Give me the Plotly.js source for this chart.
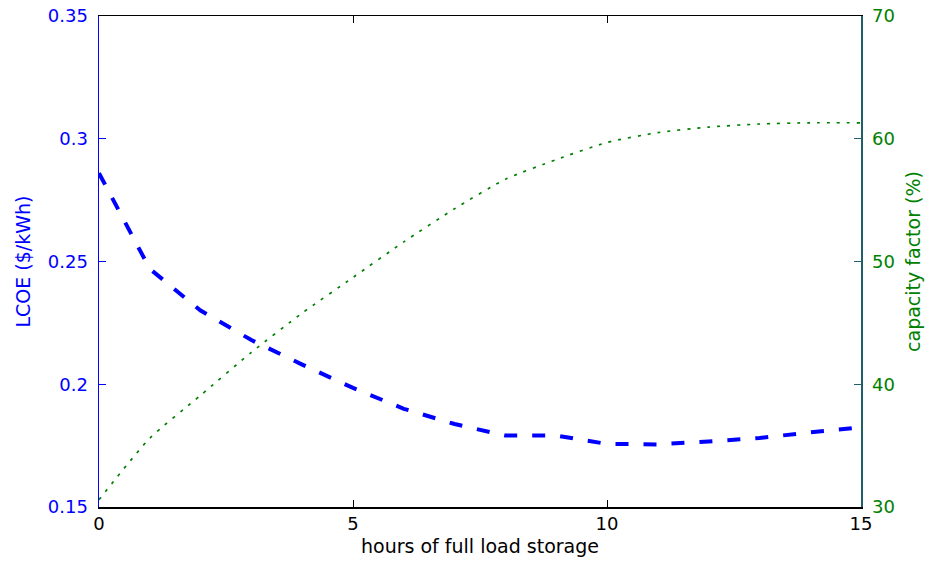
<!DOCTYPE html>
<html>
<head>
<meta charset="utf-8">
<script src="https://cdn.plot.ly/plotly-3.0.1.min.js"></script>
<style>html,body{margin:0;padding:0;background:#fff;}#chart{width:927px;height:563px;}</style>
</head>
<body>
<div id="chart"></div>
<script>
// hours of full load storage
const hours = [0,1,2,3,4,5,6,7,8,9,10,11,12,13,14,15];
// LCOE ($/kWh)
const lcoe = [0.286,0.247,0.230,0.218,0.208,0.1985,0.190,0.1838,0.1791,0.1791,0.1757,0.1755,0.1767,0.1781,0.1804,0.1824];
// capacity factor (%)
const capFactor = [30.6,35.6,39.1,42.6,45.8,48.7,51.6,54.3,56.7,58.3,59.7,60.5,60.95,61.2,61.3,61.3];

const leftTicks = [0.15,0.2,0.25,0.3,0.35];
const leftTickText = ['0.15','0.2','0.25','0.3','0.35'];
const rightTicks = [30,40,50,60,70];
const xTicks = [0,5,10,15];

const font = 'DejaVu Sans, Verdana, sans-serif';
const blue = '#0000ff';
const green = '#008000';

const traces = [
  {x: hours, y: lcoe, type: 'scatter', mode: 'lines', yaxis: 'y',
   line: {color: blue, width: 4, dash: '13px,15px'}, hoverinfo: 'none'},
  {x: hours, y: capFactor, type: 'scatter', mode: 'lines', yaxis: 'y2',
   line: {color: green, width: 1.7, dash: '3px,7px', shape: 'spline', smoothing: 0.6}, hoverinfo: 'none'}
];

const layout = {
  width: 927, height: 563,
  margin: {l: 99, r: 66, t: 16, b: 56},
  paper_bgcolor: '#fff', plot_bgcolor: '#fff',
  showlegend: false,
  font: {family: font, size: 18, color: '#000'},
  xaxis: {
    range: [0, 15], tickvals: xTicks, ticktext: xTicks.map(String),
    ticks: 'inside', ticklen: 7, tickcolor: '#000', tickwidth: 1,
    showline: true, linecolor: '#000', linewidth: 1.5, mirror: 'ticks',
    showgrid: false, zeroline: false,
    tickfont: {family: font, size: 18, color: '#000'},
    title: {text: 'hours of full load storage', font: {family: font, size: 19, color: '#000'}, standoff: 6}
  },
  yaxis: {
    range: [0.15, 0.35], tickvals: leftTicks, ticktext: leftTickText,
    ticks: 'inside', ticklen: 7, tickcolor: blue, tickwidth: 1,
    showline: true, linecolor: blue, linewidth: 1.5,
    showgrid: false, zeroline: false,
    tickfont: {family: font, size: 18, color: blue},
    ticklabelstandoff: 6,
    title: {text: 'LCOE ($/kWh)', font: {family: font, size: 19, color: blue}, standoff: 12}
  },
  yaxis2: {
    overlaying: 'y', side: 'right',
    range: [30, 70], tickvals: rightTicks, ticktext: rightTicks.map(String),
    ticks: 'inside', ticklen: 7, tickcolor: '#1f5f6a', tickwidth: 1,
    showline: true, linecolor: '#1f5f6a', linewidth: 1.5,
    showgrid: false, zeroline: false,
    tickfont: {family: font, size: 18, color: green},
    ticklabelstandoff: 6,
    title: {text: 'capacity factor (%)', font: {family: font, size: 19, color: green}, standoff: 12}
  }
};

Plotly.newPlot('chart', traces, layout, {displayModeBar: false, staticPlot: true});
</script>
</body>
</html>
